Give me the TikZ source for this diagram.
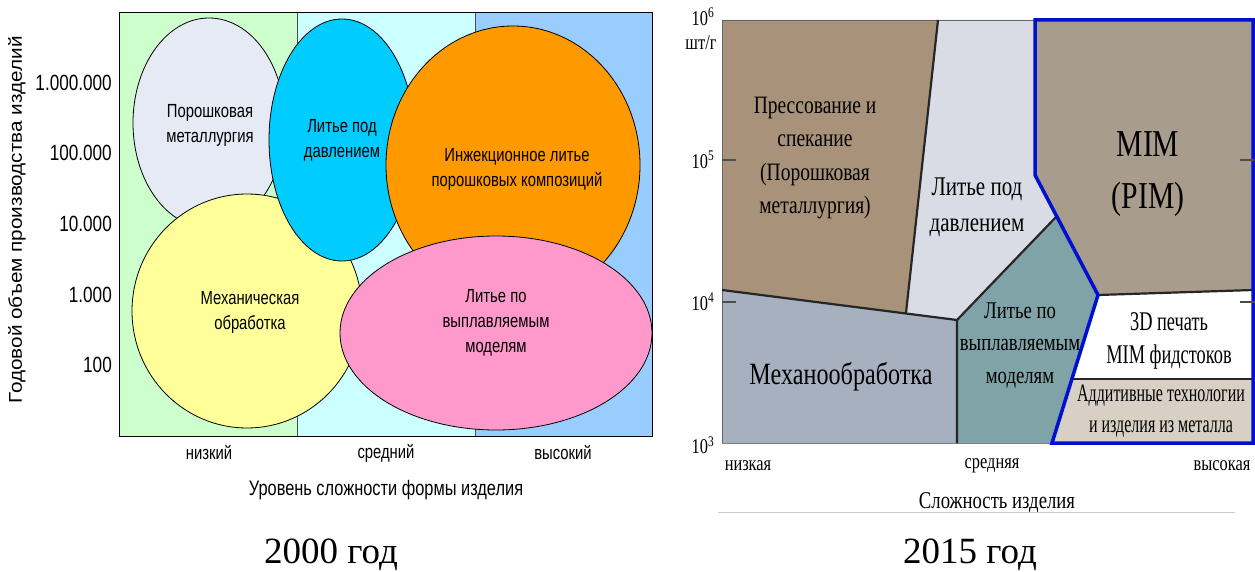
\documentclass[tikz,border=0pt]{standalone}
\usepackage{fontspec}
\setmainfont{Liberation Serif}
\newfontfamily\lsans{Liberation Sans}[FakeStretch=0.78]
\newfontfamily\lsanswide{Liberation Sans}[FakeStretch=1.12]
\newfontfamily\lserif{Liberation Serif}[FakeStretch=0.78]
\newfontfamily\lserifn{Liberation Serif}[FakeStretch=0.68]
\newfontfamily\lserifnn{Liberation Serif}[FakeStretch=0.64]
\newfontfamily\lserifw{Liberation Serif}
\usetikzlibrary{shapes.geometric}
\definecolor{colA}{HTML}{CCFFCC}
\definecolor{colB}{HTML}{CCFFFF}
\definecolor{colC}{HTML}{99CCFF}
\definecolor{lav}{HTML}{E6EAF5}
\definecolor{cyn}{HTML}{00CCFF}
\definecolor{org}{HTML}{FF9900}
\definecolor{yel}{HTML}{FFFF99}
\definecolor{pnk}{HTML}{FF99CC}
\definecolor{rBr}{HTML}{A8927A}
\definecolor{rLg}{HTML}{D9DCE5}
\definecolor{rMo}{HTML}{A6B0BE}
\definecolor{rTe}{HTML}{80A3A7}
\definecolor{rMim}{HTML}{A89C8D}
\definecolor{rBe}{HTML}{D9D0C5}
\definecolor{rBlue}{HTML}{0010D0}
\begin{document}
\begin{tikzpicture}[x=1pt,y=-1pt,
  blob/.style={ellipse, draw=black, line width=0.8pt, inner sep=0},
  lbl/.style={font=\lsans\fontsize{19}{25}\selectfont, align=center, inner sep=0},
  ticklbl/.style={font=\lsans\fontsize{22}{25}\selectfont, anchor=east, inner sep=0},
  xlbl/.style={font=\lsans\fontsize{19}{25}\selectfont, inner sep=0},
  rlbl/.style={font=\lserif\fontsize{25}{33.5}\selectfont, align=center, inner sep=0},
  raxis/.style={font=\lserif\fontsize{21}{24}\selectfont, inner sep=0},
  bord/.style={draw=black!85, line width=2.2pt, line join=round},
  blueb/.style={draw=rBlue, line width=3.5pt, line join=miter},
  tickm/.style={draw=black!70, line width=1.5pt},
  captxt/.style={font=\lserifw\fontsize{37}{40}\selectfont, inner sep=0}
]
\useasboundingbox (0,0) rectangle (1255,572);
\fill[white] (0,0) rectangle (1255,572);

% ---------- left chart ----------
\fill[colA] (119,12) rectangle (297,436);
\fill[colB] (297,12) rectangle (475,436);
\fill[colC] (475,12) rectangle (652,436);
\draw[black!70, line width=0.6pt] (297,12) -- (297,436) (475,12) -- (475,436);
\draw[line width=0.8pt] (119,12) rectangle (652,436);

\node[blob, fill=lav, minimum width=152, minimum height=210] (e1) at (209,123) {};
\node[blob, fill=yel, minimum width=230, minimum height=234] (e2) at (247,311) {};
\node[blob, fill=cyn, minimum width=146, minimum height=242] (e3) at (342,140) {};
\node[blob, fill=org, minimum width=254, minimum height=278] (e4) at (513,165) {};
\node[blob, fill=pnk, minimum width=312, minimum height=194] (e5) at (496,333) {};

\node[lbl] (t1) at (210,125) {Порошковая\\металлургия};
\node[lbl] (t2) at (342,140) {Литье под\\давлением};
\node[lbl] (t3) at (517,169) {Инжекционное литье\\порошковых композиций};
\node[lbl] (t4) at (250,312) {Механическая\\обработка};
\node[lbl] (t5) at (496,323) {Литье по\\выплавляемым\\моделям};

\node[ticklbl] (y1) at (112,83) {1.000.000};
\node[ticklbl] (y2) at (112,153) {100.000};
\node[ticklbl] (y3) at (112,224) {10.000};
\node[ticklbl] (y4) at (112,295) {1.000};
\node[ticklbl] (y5) at (112,365) {100};
\node[rotate=90, font=\lsanswide\fontsize{18.5}{22}\selectfont, inner sep=0] (ytitle) at (17,220) {Годовой объем производства изделий};

\node[xlbl] (x1) at (209,453) {низкий};
\node[xlbl] (x2) at (386,453) {средний};
\node[xlbl] (x3) at (563,453) {высокий};
\node[font=\lsans\fontsize{21}{25}\selectfont, inner sep=0] (xtitle) at (386,490) {Уровень сложности формы изделия};

% ---------- right chart ----------
\fill[rBr] (722,20) -- (938,20) -- (906,313) -- (722,290) -- cycle;
\fill[rLg] (938,20) -- (1035,20) -- (1035,175) -- (1056,217) -- (957,320) -- (906,313) -- cycle;
\fill[rMo] (722,290) -- (957,320) -- (957,443) -- (722,443) -- cycle;
\fill[rTe] (957,320) -- (1056,217) -- (1098,295) -- (1052,443) -- (957,443) -- cycle;
\fill[rMim] (1035,20) -- (1253,20) -- (1253,290) -- (1098,295) -- (1035,175) -- cycle;
\fill[white] (1098,295) -- (1253,290) -- (1253,379) -- (1072,379) -- cycle;
\fill[rBe] (1072,379) -- (1253,379) -- (1253,443) -- (1052,443) -- cycle;

\draw[black!60, line width=0.8pt] (722,443) -- (722,20) -- (1035,20);
\draw[black!50, line width=0.8pt] (722,443) -- (1052,443);
\draw[bord] (938,20) -- (906,313);
\draw[bord] (722,290) -- (957,320) -- (957,443);
\draw[bord] (957,320) -- (1056,217);
\draw[bord] (1098,295) -- (1253,290);
\draw[bord] (1072,379) -- (1253,379);
\draw[blueb] (1035,20) -- (1253,20) -- (1253,443) -- (1052,443) -- (1098,295) -- (1035,175) -- cycle;

\draw[tickm] (722,160) -- (736,160) (722,302) -- (736,302);
\draw[tickm] (1240,160) -- (1255,160) (1240,302) -- (1255,302);

\node[rlbl] (r1) at (815,158) {Прессование и\\спекание\\(Порошковая\\металлургия)};
\node[rlbl, font=\lserif\fontsize{27}{36}\selectfont] (r2) at (977,207) {Литье под\\давлением};
\node[rlbl, font=\lserif\fontsize{38}{52}\selectfont] (r3) at (1148,174) {MIM\\(PIM)};
\node[rlbl, font=\lserif\fontsize{24}{32.5}\selectfont] (r4) at (1020,345) {Литье по\\выплавляемым\\моделям};
\node[rlbl, font=\lserif\fontsize{31}{34}\selectfont] (r5) at (841,377) {Механообработка};
\node[rlbl, font=\lserifn\fontsize{27}{33}\selectfont] (r6) at (1169,341) {3D печать\\MIM фидстоков};
\node[rlbl, font=\lserifnn\fontsize{25}{31}\selectfont] (r7) at (1161,411) {Аддитивные технологии\\и изделия из металла};

\node[raxis] (a6) at (703,17) {10\textsuperscript{6}};
\node[raxis] (au) at (701,43) {шт/г};
\node[raxis] (a5) at (703,160) {10\textsuperscript{5}};
\node[raxis] (a4) at (703,302) {10\textsuperscript{4}};
\node[raxis] (a3) at (703,445) {10\textsuperscript{3}};

\node[raxis] (b1) at (748,466) {низкая};
\node[raxis] (b2) at (992,466) {средняя};
\node[raxis] (b3) at (1222,466) {высокая};
\node[raxis, font=\lserif\fontsize{24}{26}\selectfont] (btitle) at (997,503) {Сложность изделия};
\draw[black!20, line width=0.8pt] (718,512) -- (1235,512);

\node[captxt] (c1) at (331,555) {2000 год};
\node[captxt] (c2) at (970,555) {2015 год};
\end{tikzpicture}
\end{document}
